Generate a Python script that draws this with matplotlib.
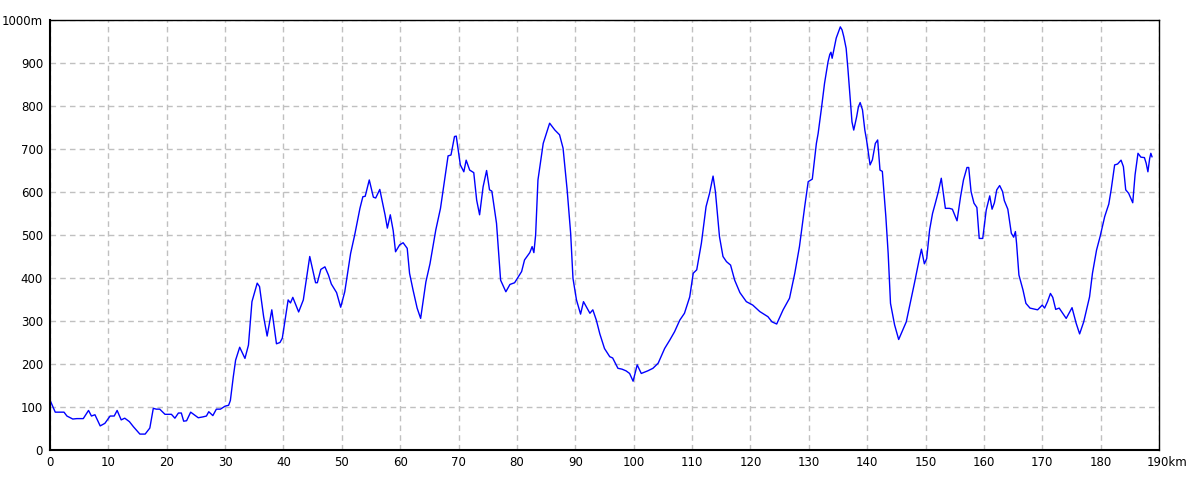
import numpy as np
import matplotlib
matplotlib.use('Agg')
import matplotlib.pyplot as plt
from matplotlib.transforms import ScaledTranslation

dist_km = [0.0, 0.9, 2.4, 2.9, 3.9, 4.6, 5.7, 6.6, 7.1, 7.7, 8.6, 9.4, 10.3, 11.0, 11.5,
           12.2, 12.8, 13.6, 14.3, 15.4, 16.3, 17.1, 17.7, 18.2, 18.8, 19.7, 20.8, 21.4,
           22.0, 22.5, 22.9, 23.4, 24.1, 25.4, 26.2, 26.8, 27.2, 27.9, 28.5, 29.2, 30.0,
           30.6, 30.9, 31.4, 31.8, 32.5, 33.4, 34.0, 34.6, 35.5, 35.9, 36.6, 37.2, 38.0,
           38.8, 39.4, 39.8, 40.8, 41.2, 41.6, 42.6, 43.4, 44.5, 45.5, 45.8, 46.4, 47.1,
           47.7, 48.2, 49.1, 49.8, 50.5, 51.5, 52.2, 53.1, 53.6, 54.0, 54.7, 55.4, 55.8,
           56.5, 57.4, 57.8, 58.3, 58.8, 59.2, 59.9, 60.5, 61.2, 61.6, 62.2, 62.9, 63.5,
           64.4, 65.1, 66.1, 66.9, 67.6, 68.2, 68.7, 69.3, 69.6, 70.3, 70.9, 71.3, 71.9,
           72.6, 73.1, 73.6, 74.2, 74.8, 75.3, 75.7, 76.5, 77.2, 78.1, 78.8, 79.6, 80.8,
           81.3, 82.2, 82.6, 82.9, 83.2, 83.6, 84.5, 85.6, 86.5, 87.3, 87.9, 88.6, 89.2,
           89.6, 90.2, 90.9, 91.4, 92.5, 93.0, 93.6, 94.2, 95.0, 95.9, 96.4, 97.3, 98.0,
           98.7, 99.3, 99.9, 100.6, 101.3, 102.4, 103.3, 104.2, 105.3, 106.2, 107.0,
           107.9, 108.7, 109.6, 110.2, 110.8, 111.6, 112.4, 113.0, 113.6, 114.0, 114.7,
           115.3, 115.9, 116.6, 117.3, 118.2, 119.3, 120.4, 121.6, 123.0, 123.7, 124.5,
           125.6, 126.7, 127.6, 128.4, 129.3, 129.9, 130.6, 131.3, 131.6, 132.2, 132.7,
           133.3, 133.6, 133.8, 134.0, 134.4, 134.7, 135.4, 135.7, 136.0, 136.4, 136.7,
           137.0, 137.4, 137.7, 138.2, 138.5, 138.8, 139.2, 139.6, 139.9, 140.5, 140.9,
           141.4, 141.8, 142.2, 142.6, 143.2, 143.6, 144.0, 144.7, 145.4, 146.7, 148.1,
           148.9, 149.3, 149.8, 150.2, 150.7, 151.2, 151.7, 152.2, 152.7, 153.4, 154.1,
           154.6, 155.4, 156.0, 156.5, 157.1, 157.4, 157.8, 158.3, 158.8, 159.2, 159.8,
           160.4, 161.0, 161.4, 161.8, 162.2, 162.7, 163.2, 163.5, 164.1, 164.7, 165.1,
           165.4, 165.6, 166.0, 166.7, 167.2, 167.9, 169.2, 170.0, 170.4, 170.9, 171.4,
           171.8, 172.3, 172.9, 174.1, 175.1, 175.8, 176.4, 177.1, 178.1, 178.6, 179.3,
           179.9, 180.7, 181.4, 181.8, 182.4, 182.9, 183.5, 183.9, 184.3, 184.8, 185.5,
           185.9, 186.4, 186.9, 187.5, 187.8, 188.1, 188.4, 188.6, 188.8]

alt_m = [116, 88, 88, 79, 72, 73, 73, 92, 79, 82, 56, 62, 79, 79, 92,
         70, 74, 66, 54, 37, 37, 51, 97, 95, 95, 83, 83, 74,
         86, 86, 67, 68, 88, 75, 77, 79, 89, 80, 95, 95, 102,
         104, 115, 170, 209, 239, 213, 244, 345, 388, 380, 310, 265, 326,
         247, 250, 260, 349, 342, 355, 321, 349, 450, 389, 389, 420, 426,
         407, 386, 366, 332, 368, 457, 500, 562, 589, 590, 628, 588, 586,
         606, 547, 516, 547, 510, 461, 477, 482, 469, 411, 372, 330, 306,
         391, 433, 512, 562, 628, 684, 686, 729, 730, 663, 647, 674, 651,
         645, 581, 547, 612, 650, 605, 602, 527, 395, 368, 385, 389, 415,
         442, 459, 473, 459, 500, 628, 713, 760, 744, 733, 702, 605, 504,
         399, 349, 316, 345, 318, 326, 302, 270, 236, 217, 214, 190, 188,
         184, 178, 160, 198, 178, 184, 190, 202, 236, 256, 275,
         302, 318, 356, 411, 419, 481, 566, 597, 637, 601, 496,
         450, 438, 430, 395, 366, 345, 337, 322, 310, 298, 293,
         326, 353, 411, 473, 566, 624, 630, 713, 736, 798, 853,
         903, 920, 925, 911, 938, 958, 984, 977, 961, 934, 887,
         833, 763, 744, 775, 798, 808, 791, 744, 721, 663, 675,
         713, 721, 651, 648, 543, 457, 341, 291, 257, 298, 388,
         442, 467, 433, 445, 512, 550, 575, 601, 632, 562, 562,
         560, 533, 589, 628, 657, 657, 601, 574, 564, 492, 492,
         558, 591, 560, 575, 605, 615, 601, 580, 560, 504, 495,
         508, 480, 407, 372, 341, 330, 326, 337, 330, 345, 364,
         355, 327, 330, 306, 331, 295, 270, 298, 356, 411, 465,
         496, 543, 572, 605, 663, 665, 674, 659, 605, 597, 575,
         640, 690, 681, 680, 667, 647, 678, 690, 682]

x_ticks = list(range(0, 191, 10))
x_labels = [str(v) for v in x_ticks[:-1]] + ['190km']
y_ticks = list(range(0, 1001, 100))
y_labels = [str(v) for v in y_ticks[:-1]] + ['1000m']

fig = plt.figure(figsize=(12, 4.8), dpi=100)
ax = fig.add_axes([50/1200, 30/480, 1109/1200, 430/480])

ax.plot(dist_km, alt_m, color='#0000ff', lw=1.0)

ax.set_xlim(0, 190)
ax.set_ylim(0, 1000)
ax.set_xticks(x_ticks)
ax.set_xticklabels(x_labels)
ax.set_yticks(y_ticks)
ax.set_yticklabels(y_labels)
ax.tick_params(length=0, labelsize=8.5, colors='black')
ax.tick_params(axis='x', pad=4)
ax.tick_params(axis='y', pad=5)

# la etiqueta 190km se centra en el numero, no en el texto completo
lbl = ax.get_xticklabels()[-1]
lbl.set_horizontalalignment('left')
lbl.set_transform(lbl.get_transform() + ScaledTranslation(-9/72, 0, fig.dpi_scale_trans))

ax.grid(True, color='#c0c0c0', linestyle=(0, (4, 3)), lw=1.0)
ax.set_axisbelow(True)

for s in ['left', 'bottom']:
    ax.spines[s].set_linewidth(1.5)
for s in ['top', 'right']:
    ax.spines[s].set_linewidth(1.0)

fig.savefig('out.png', dpi=100)
